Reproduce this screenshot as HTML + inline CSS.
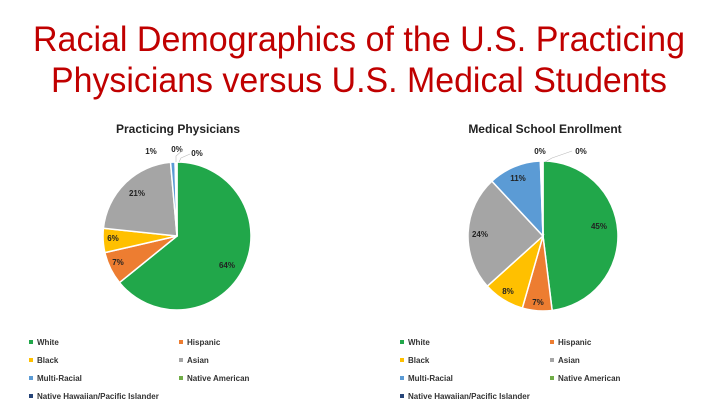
<!DOCTYPE html>
<html><head><meta charset="utf-8"><style>
body{margin:0;background:#fff;width:720px;height:410px;overflow:hidden}
text{font-family:"Liberation Sans",sans-serif}
</style></head><body>
<svg width="720" height="410" viewBox="0 0 720 410" xmlns="http://www.w3.org/2000/svg">
<text x="359" y="51" font-size="35" fill="#c00000" text-anchor="middle" textLength="652" lengthAdjust="spacingAndGlyphs">Racial Demographics of the U.S. Practicing</text>
<text x="359" y="92" font-size="35" fill="#c00000" text-anchor="middle" textLength="616" lengthAdjust="spacingAndGlyphs">Physicians versus U.S. Medical Students</text>

<text x="178" y="133" font-size="12" font-weight="bold" fill="#222" text-anchor="middle">Practicing Physicians</text>
<text x="545" y="133" font-size="12" font-weight="bold" fill="#222" text-anchor="middle">Medical School Enrollment</text>

<g id="p1" stroke="#fff" stroke-width="1.5"></g>
<g id="p2" stroke="#fff" stroke-width="1.5"></g>

<g font-size="8" font-weight="bold" fill="#222" text-anchor="middle">
<text x="227" y="268">64%</text>
<text x="118" y="265">7%</text>
<text x="113" y="241">6%</text>
<text x="137" y="196">21%</text>
<text x="151" y="154">1%</text>
<text x="177" y="152">0%</text>
<text x="197" y="156">0%</text>
<text x="599" y="229">45%</text>
<text x="538" y="305">7%</text>
<text x="508" y="294">8%</text>
<text x="480" y="237">24%</text>
<text x="518" y="181">11%</text>
<text x="540" y="154">0%</text>
<text x="581" y="154">0%</text>
</g>
<g fill="none" stroke="#bbb" stroke-width="0.6">
<polyline points="183,150 176,156 176,162"/>
<polyline points="190,154 181,158 179,162"/>
<polyline points="572,151 552,158 545,162"/>
</g>

<g font-size="8" font-weight="bold" fill="#333">
<g transform="translate(0,0)">
<rect x="29" y="340" width="4" height="4" fill="#21a74a"/><text x="37" y="345">White</text>
<rect x="179" y="340" width="4" height="4" fill="#ed7d31"/><text x="187" y="345">Hispanic</text>
<rect x="29" y="358" width="4" height="4" fill="#ffc000"/><text x="37" y="363">Black</text>
<rect x="179" y="358" width="4" height="4" fill="#a5a5a5"/><text x="187" y="363">Asian</text>
<rect x="29" y="376" width="4" height="4" fill="#5b9bd5"/><text x="37" y="381">Multi-Racial</text>
<rect x="179" y="376" width="4" height="4" fill="#70ad47"/><text x="187" y="381">Native American</text>
<rect x="29" y="394" width="4" height="4" fill="#264478"/><text x="37" y="399">Native Hawaiian/Pacific Islander</text>
</g>
<g transform="translate(371,0)">
<rect x="29" y="340" width="4" height="4" fill="#21a74a"/><text x="37" y="345">White</text>
<rect x="179" y="340" width="4" height="4" fill="#ed7d31"/><text x="187" y="345">Hispanic</text>
<rect x="29" y="358" width="4" height="4" fill="#ffc000"/><text x="37" y="363">Black</text>
<rect x="179" y="358" width="4" height="4" fill="#a5a5a5"/><text x="187" y="363">Asian</text>
<rect x="29" y="376" width="4" height="4" fill="#5b9bd5"/><text x="37" y="381">Multi-Racial</text>
<rect x="179" y="376" width="4" height="4" fill="#70ad47"/><text x="187" y="381">Native American</text>
<rect x="29" y="394" width="4" height="4" fill="#264478"/><text x="37" y="399">Native Hawaiian/Pacific Islander</text>
</g>
</g>
</svg>
<script>
function pie(id,cx,cy,r,segs){
  var g=document.getElementById(id),a0=0,s='';
  segs.forEach(function(d){
    var a1=d[0];
    var p=function(a){var t=(a-90)*Math.PI/180;return (cx+r*Math.cos(t)).toFixed(2)+','+(cy+r*Math.sin(t)).toFixed(2);};
    var large=(a1-a0)>180?1:0;
    s+='<path d="M'+cx+','+cy+' L'+p(a0)+' A'+r+','+r+' 0 '+large+' 1 '+p(a1)+' Z" fill="'+d[1]+'"/>';
    a0=a1;
  });
  g.innerHTML=s;
}
pie('p1',177,236,74,[[231,'#21a74a'],[257,'#ed7d31'],[276,'#ffc000'],[355,'#a5a5a5'],[358.5,'#5b9bd5'],[359.3,'#70ad47'],[360,'#264478']]);
pie('p2',543,236,75,[[173,'#21a74a'],[196,'#ed7d31'],[228,'#ffc000'],[317,'#a5a5a5'],[358,'#5b9bd5'],[359,'#70ad47'],[360,'#264478']]);
</script>
</body></html>
